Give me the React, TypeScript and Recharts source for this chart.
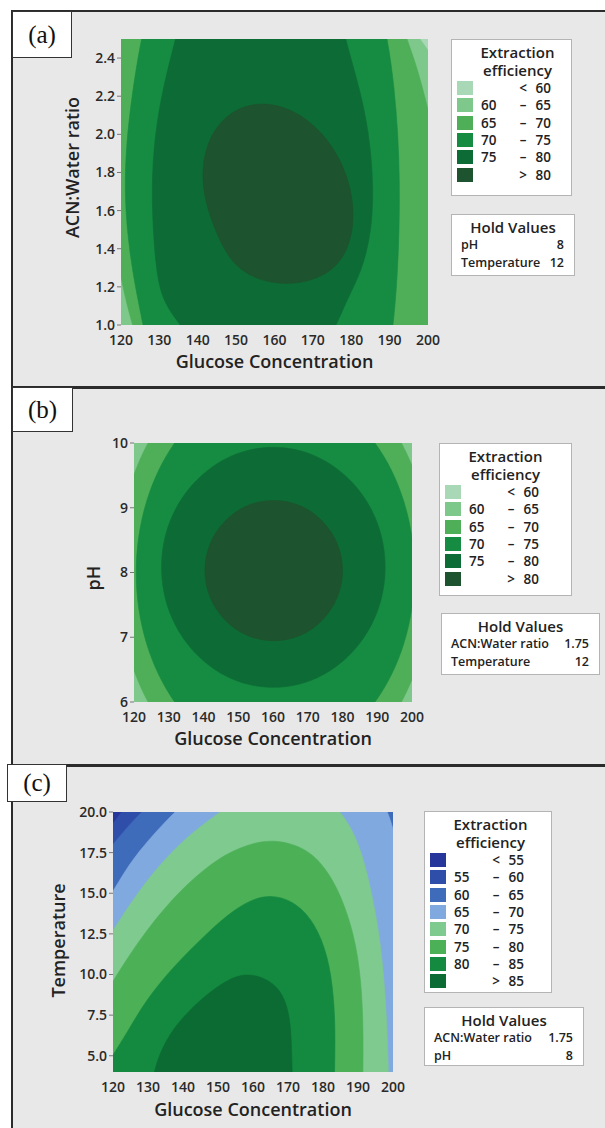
import { ScatterChart, Scatter, XAxis, YAxis, CartesianGrid } from 'recharts'

const FONT = '"Open Sans", "Noto Sans", sans-serif'

// axes
const GLUCOSE_DOMAIN = [120, 200]
const GLUCOSE_TICKS = [120, 130, 140, 150, 160, 170, 180, 190, 200]
const RATIO_DOMAIN = [1.0, 2.5]
const RATIO_TICKS = [1.0, 1.2, 1.4, 1.6, 1.8, 2.0, 2.2, 2.4]
const PH_DOMAIN = [6, 10]
const PH_TICKS = [6, 7, 8, 9, 10]
const TEMP_DOMAIN = [4, 20]
const TEMP_TICKS = [5, 7.5, 10, 12.5, 15, 17.5, 20]

// legend classes and colours
const GREEN_CLASSES = [
  ['', '<', '60'],
  ['60', '–', '65'],
  ['65', '–', '70'],
  ['70', '–', '75'],
  ['75', '–', '80'],
  ['', '>', '80'],
]
const GREEN_COLORS = ['#a9d8b6', '#7fc88c', '#4faf58', '#158c42', '#0d6c35', '#1d532e']

const BLUE_GREEN_CLASSES = [
  ['', '<', '55'],
  ['55', '–', '60'],
  ['60', '–', '65'],
  ['65', '–', '70'],
  ['70', '–', '75'],
  ['75', '–', '80'],
  ['80', '–', '85'],
  ['', '>', '85'],
]
const BLUE_GREEN_COLORS = ['#27369b', '#2f4ea9', '#3f6bbb', '#80a9df', '#7fca8f', '#4cb057', '#148a40', '#0c6b33']

// contour outlines, [glucose, second factor]
// (a) glucose vs ACN:Water ratio
const A_60 = [[197.9, 2.5], [200, 2.44], [202, 2.383], [205, 2.0], [206, 0.7], [160, 0.6], [108, 0.6], [108, 2.8], [160, 2.8], [192, 2.67], [195.3, 2.574]]
const A_65 = [[192.5, 2.62], [194.5, 2.5], [196.3, 2.4], [197.8, 2.3], [199, 2.21], [200, 2.13], [201.3, 2.02], [203, 1.8], [205, 1.0], [204, 0.7], [160, 0.6], [127.5, 0.75], [125, 0.87], [123, 1.0], [121.5, 1.11], [120, 1.25], [118.6, 1.39], [117, 1.6], [108, 2.0], [109, 2.8], [160, 2.85]]
const A_70 = [[125.2, 2.5], [127.5, 2.68], [140, 2.95], [158, 3.05], [176, 2.95], [187.3, 2.68], [189.5, 2.5], [191.2, 2.25], [192.2, 2.0], [192.6, 1.75], [192.5, 1.5], [192, 1.25], [191, 1.0], [189.5, 0.8], [176, 0.5], [158, 0.42], [140, 0.5], [127.5, 0.8], [125.8, 1.0], [123.5, 1.22], [121.8, 1.45], [120.9, 1.7], [121.4, 1.95], [122.8, 2.2]]
const A_75 = [[134.2, 2.5], [136.5, 2.68], [146, 2.9], [157, 2.95], [168, 2.9], [176.5, 2.68], [178.4, 2.5], [182.8, 2.2], [185, 1.95], [185.8, 1.7], [185.2, 1.48], [182.7, 1.28], [178.8, 1.13], [176.2, 1.0], [172, 0.85], [156, 0.78], [140, 0.85], [135.8, 1.0], [130.2, 1.13], [128.6, 1.4], [127.9, 1.72], [128.8, 2.0], [131, 2.25]]
const A_80 = [[181.0, 1.655], [176.9, 1.903], [168.55, 2.096], [158.1, 2.179], [148.4, 2.132], [142.0, 1.966], [140.6, 1.726], [144.7, 1.477], [150.1, 1.274], [162.0, 1.196], [174.5, 1.253], [180.2, 1.42]]

// (b) glucose vs pH
const B_65 = [[207, 8.0], [203.5, 9.32], [193.4, 10.44], [178.3, 11.19], [160.5, 11.45], [142.7, 11.19], [127.6, 10.44], [117.5, 9.32], [114, 8.0], [117.5, 6.68], [127.6, 5.56], [142.7, 4.81], [160.5, 4.55], [178.3, 4.81], [193.4, 5.56], [203.5, 6.68]]
const B_70 = [[201.75, 8.0], [198.6, 9.13], [189.6, 10.09], [176.1, 10.73], [160.25, 10.95], [144.4, 10.73], [131.5, 10.09], [122.7, 9.13], [119.6, 8.0], [122.7, 6.87], [131.5, 5.91], [144.4, 5.27], [160.25, 5.05], [176.1, 5.27], [189.6, 5.91], [198.6, 6.87]]
const B_75 = [[193.1, 8.08], [190.6, 8.81], [183.4, 9.42], [172.7, 9.84], [160.1, 9.98], [147.5, 9.84], [136.8, 9.42], [129.6, 8.81], [127.1, 8.08], [129.6, 7.35], [136.8, 6.74], [147.5, 6.32], [160.1, 6.18], [172.7, 6.32], [183.4, 6.74], [190.6, 7.35]]
const B_80 = [[180.5, 8.03], [179.0, 8.45], [174.6, 8.81], [168.0, 9.06], [160.2, 9.14], [152.4, 9.06], [145.8, 8.81], [141.4, 8.45], [139.9, 8.03], [141.4, 7.61], [145.8, 7.25], [152.4, 7.0], [160.2, 6.92], [168.0, 7.0], [174.6, 7.25], [179.0, 7.61]]

// (c) glucose vs temperature
const C_55 = [[120, 19.3], [122.5, 20], [124.5, 20.6], [135, 23], [206, 23], [208, 10], [205, 1], [150, -1], [112, 1], [109, 10], [112, 17], [117.5, 18.6]]
const C_60 = [[120, 18.0], [124, 19.05], [128.2, 20], [131, 20.6], [140, 21.8], [170, 22.5], [206, 23], [208, 10], [205, 1], [150, -1], [112, 1], [109, 10], [113, 16], [116.5, 17.1]]
const C_65 = [[120, 15.1], [123.5, 16.4], [127.5, 17.6], [132.5, 18.85], [137.7, 20], [140.5, 20.6], [150, 21.6], [170, 22], [190, 21.5], [196.5, 20.8], [198.5, 20], [200, 19.0], [201.5, 17.8], [203, 15], [204, 8], [204, 2], [190, 0], [130, 0], [112, 2], [110, 9], [113, 13], [116.5, 14.0]]
const C_70 = [[120, 12.7], [126.8, 15.0], [135.3, 17.25], [142.9, 18.79], [150.6, 20], [155, 20.7], [168, 21.5], [181, 20.8], [185.3, 20], [190.6, 18.07], [194.4, 14.58], [196.8, 11.51], [198.2, 7.4], [198.7, 4], [198.8, 2.5], [190, 1], [130, 1], [112, 3], [111, 8], [115, 11.0]]
const C_75 = [[120, 9.6], [126.8, 11.92], [136.3, 14.58], [147.7, 16.84], [156.3, 17.87], [165.8, 18.4], [175.5, 17.75], [180.5, 16.6], [184.5, 15.2], [189, 12.5], [191, 9.5], [191.5, 6.5], [191.4, 4], [191.3, 2.5], [170, 1], [130, 1], [111, 3], [113, 6], [116.5, 8.3]]
const C_80 = [[120, 5.05], [123.9, 6.38], [129.4, 8.43], [137.2, 10.48], [146.8, 12.53], [154.4, 14.0], [163, 15.0], [171.5, 14.6], [177.7, 13.2], [181.5, 11.1], [183.1, 8.64], [183.5, 6.38], [183.3, 4], [183.2, 2.5], [175, 0.5], [140, -0.5], [114, 1], [115.5, 3.3], [117.5, 4.2]]
const C_85 = [[131.7, 4.02], [133.4, 5.15], [136.3, 6.38], [140.1, 7.4], [144.9, 8.43], [150.6, 9.4], [156.8, 10.1], [163, 9.85], [167.2, 9.2], [169.6, 8.23], [170.9, 6.79], [171.2, 4.02], [171.3, 2.5], [165, 0.5], [140, 0.5], [130.5, 2.5]]

const TICK_STYLE = { fontFamily: FONT, fontWeight: 600, fontSize: 14, fill: '#2a2a2a' }
const TITLE_STYLE = { fontFamily: FONT, fontWeight: 600, fontSize: 18, fill: '#222' }

const toXY = (pts: number[][]) => pts.map(([x, y]) => ({ x, y }))
const noDot = () => <g />

const xTitle = (text: string, x: number, y: number) => () => (
  <text x={x} y={y} textAnchor='middle' dominantBaseline='central' style={TITLE_STYLE}>
    {text}
  </text>
)
const yTitle = (text: string, x: number, y: number) => () => (
  <text x={x} y={y} transform={`rotate(-90 ${x} ${y})`} textAnchor='middle' dominantBaseline='central' style={TITLE_STYLE}>
    {text}
  </text>
)

interface ContourProps {
  top: number
  width: number
  height: number
  margin: { top: number; right: number; bottom: number; left: number }
  yWidth: number
  xHeight: number
  yDomain: number[]
  yTicks: number[]
  yFormat: (v: number) => string
  background: string
  levels: { color: string; points: number[][] }[]
  yLabel: string
  xTitlePos: number[]
  yTitlePos: number[]
}

function ContourChart(p: ContourProps) {
  return (
    <div style={{ position: 'absolute', left: 0, top: p.top }}>
      <ScatterChart width={p.width} height={p.height} margin={p.margin}>
        <CartesianGrid fill={p.background} horizontal={false} vertical={false} stroke='none' />
        <XAxis
          type='number'
          dataKey='x'
          domain={GLUCOSE_DOMAIN}
          ticks={GLUCOSE_TICKS}
          interval={0}
          allowDataOverflow
          axisLine={false}
          tickLine={false}
          tickSize={4}
          tickMargin={6}
          height={p.xHeight}
          tick={TICK_STYLE}
          label={xTitle('Glucose Concentration', p.xTitlePos[0], p.xTitlePos[1])}
        />
        <YAxis
          type='number'
          dataKey='y'
          domain={p.yDomain}
          ticks={p.yTicks}
          interval={0}
          allowDataOverflow
          axisLine={false}
          tickLine={{ stroke: '#777' }}
          tickSize={4}
          tickMargin={2}
          width={p.yWidth}
          tick={TICK_STYLE}
          tickFormatter={p.yFormat}
          label={yTitle(p.yLabel, p.yTitlePos[0], p.yTitlePos[1])}
        />
        {p.levels.map((lv, i) => (
          <Scatter
            key={i}
            data={toXY(lv.points)}
            line={{ fill: lv.color, stroke: lv.color, strokeWidth: 0.6 }}
            lineJointType='basisClosed'
            shape={noDot}
            isAnimationActive={false}
          />
        ))}
      </ScatterChart>
    </div>
  )
}

function EfficiencyLegend({ left, top, width, height, classes, colors }: any) {
  return (
    <div
      style={{
        position: 'absolute', left, top, width, height, boxSizing: 'border-box',
        background: '#fff', border: '1px solid #b4b4b4',
        fontFamily: FONT, fontWeight: 600, fontSize: 13.5, color: '#222',
      }}
    >
      <div style={{ position: 'absolute', left: 0, width: 131, top: 3, textAlign: 'center', lineHeight: '18px', fontSize: 15 }}>
        Extraction
        <br />
        efficiency
      </div>
      {classes.map((c: string[], i: number) => (
        <div key={i} style={{ position: 'absolute', left: 0, top: 48 + i * 17.3 - 8, height: 16, width: '100%', lineHeight: '16px' }}>
          <div style={{ position: 'absolute', left: 5, top: 1, width: 16, height: 14, background: colors[i] }} />
          <span style={{ position: 'absolute', left: 29 }}>{c[0]}</span>
          <span style={{ position: 'absolute', left: 61, width: 20, textAlign: 'center' }}>{c[1]}</span>
          <span style={{ position: 'absolute', right: width - 101, textAlign: 'right' }}>{c[2]}</span>
        </div>
      ))}
    </div>
  )
}

function HoldValues({ left, top, width, height, rows }: any) {
  return (
    <div
      style={{
        position: 'absolute', left, top, width, height, boxSizing: 'border-box',
        background: '#fff', border: '1px solid #b4b4b4',
        fontFamily: FONT, fontWeight: 600, fontSize: 12.5, color: '#222',
      }}
    >
      <div style={{ position: 'absolute', left: 0, right: 0, top: 2, textAlign: 'center', fontSize: 15, lineHeight: '20px' }}>Hold Values</div>
      {rows.map((r: string[], i: number) => (
        <div key={i} style={{ position: 'absolute', left: 9, right: 10, top: 21 + i * 18, lineHeight: '18px' }}>
          <span>{r[0]}</span>
          <span style={{ position: 'absolute', right: 0 }}>{r[1]}</span>
        </div>
      ))}
    </div>
  )
}

function PanelTag({ left, top, width, height, text }: any) {
  return (
    <div
      style={{
        position: 'absolute', left, top, width, height, boxSizing: 'border-box',
        background: '#fff', border: '1px solid #333',
        fontFamily: '"Liberation Serif", "Times New Roman", serif', fontSize: 25,
        display: 'flex', alignItems: 'center', justifyContent: 'center', color: '#111',
      }}
    >
      {text}
    </div>
  )
}

const fmt1 = (v: number) => v.toFixed(1)
const fmt0 = (v: number) => String(v)

export default function App() {
  return (
    <div style={{ position: 'absolute', left: 0, top: 0, width: 605, height: 1128, background: '#fff', overflow: 'hidden' }}>
      <div
        style={{
          position: 'absolute', left: 11, top: 10, width: 610, height: 1130, boxSizing: 'border-box',
          background: '#e8e8e8', borderLeft: '2px solid #2b2b2b', borderTop: '2px solid #2b2b2b',
        }}
      />
      <div style={{ position: 'absolute', left: 11, top: 386, width: 600, height: 2.5, background: '#2b2b2b' }} />
      <div style={{ position: 'absolute', left: 11, top: 764, width: 600, height: 2.5, background: '#2b2b2b' }} />

      <ContourChart
        top={0}
        width={450}
        height={380}
        margin={{ top: 39, right: 22, bottom: 15, left: 0 }}
        yWidth={121}
        xHeight={40}
        yDomain={RATIO_DOMAIN}
        yTicks={RATIO_TICKS}
        yFormat={fmt1}
        background={GREEN_COLORS[0]}
        levels={[
          { color: GREEN_COLORS[1], points: A_60 },
          { color: GREEN_COLORS[2], points: A_65 },
          { color: GREEN_COLORS[3], points: A_70 },
          { color: GREEN_COLORS[4], points: A_75 },
          { color: GREEN_COLORS[5], points: A_80 },
        ]}
        yLabel='ACN:Water ratio'
        xTitlePos={[274.5, 361]}
        yTitlePos={[72, 167.5]}
      />
      <ContourChart
        top={390}
        width={450}
        height={370}
        margin={{ top: 53, right: 38, bottom: 18, left: 0 }}
        yWidth={134}
        xHeight={40}
        yDomain={PH_DOMAIN}
        yTicks={PH_TICKS}
        yFormat={fmt0}
        background={GREEN_COLORS[1]}
        levels={[
          { color: GREEN_COLORS[2], points: B_65 },
          { color: GREEN_COLORS[3], points: B_70 },
          { color: GREEN_COLORS[4], points: B_75 },
          { color: GREEN_COLORS[5], points: B_80 },
        ]}
        yLabel='pH'
        xTitlePos={[273, 348]}
        yTitlePos={[92.5, 188]}
      />
      <ContourChart
        top={768}
        width={440}
        height={360}
        margin={{ top: 44, right: 47, bottom: 20, left: 0 }}
        yWidth={113}
        xHeight={36}
        yDomain={TEMP_DOMAIN}
        yTicks={TEMP_TICKS}
        yFormat={fmt1}
        background={BLUE_GREEN_COLORS[0]}
        levels={[
          { color: BLUE_GREEN_COLORS[1], points: C_55 },
          { color: BLUE_GREEN_COLORS[2], points: C_60 },
          { color: BLUE_GREEN_COLORS[3], points: C_65 },
          { color: BLUE_GREEN_COLORS[4], points: C_70 },
          { color: BLUE_GREEN_COLORS[5], points: C_75 },
          { color: BLUE_GREEN_COLORS[6], points: C_80 },
          { color: BLUE_GREEN_COLORS[7], points: C_85 },
        ]}
        yLabel='Temperature'
        xTitlePos={[253, 341]}
        yTitlePos={[57.5, 172.5]}
      />

      <EfficiencyLegend left={451} top={39} width={121} height={157} classes={GREEN_CLASSES} colors={GREEN_COLORS} />
      <HoldValues left={451} top={214} width={124} height={62} rows={[['pH', '8'], ['Temperature', '12']]} />

      <EfficiencyLegend left={439} top={443} width={133} height={153} classes={GREEN_CLASSES} colors={GREEN_COLORS} />
      <HoldValues left={441} top={613} width={159} height={62} rows={[['ACN:Water ratio', '1.75'], ['Temperature', '12']]} />

      <EfficiencyLegend left={424} top={811} width={128} height={182} classes={BLUE_GREEN_CLASSES} colors={BLUE_GREEN_COLORS} />
      <HoldValues left={424} top={1007} width={160} height={59} rows={[['ACN:Water ratio', '1.75'], ['pH', '8']]} />

      <PanelTag left={12} top={11} width={60} height={47} text='(a)' />
      <PanelTag left={12} top={387} width={61} height={45} text='(b)' />
      <PanelTag left={7} top={764} width={60} height={38} text='(c)' />
    </div>
  )
}
